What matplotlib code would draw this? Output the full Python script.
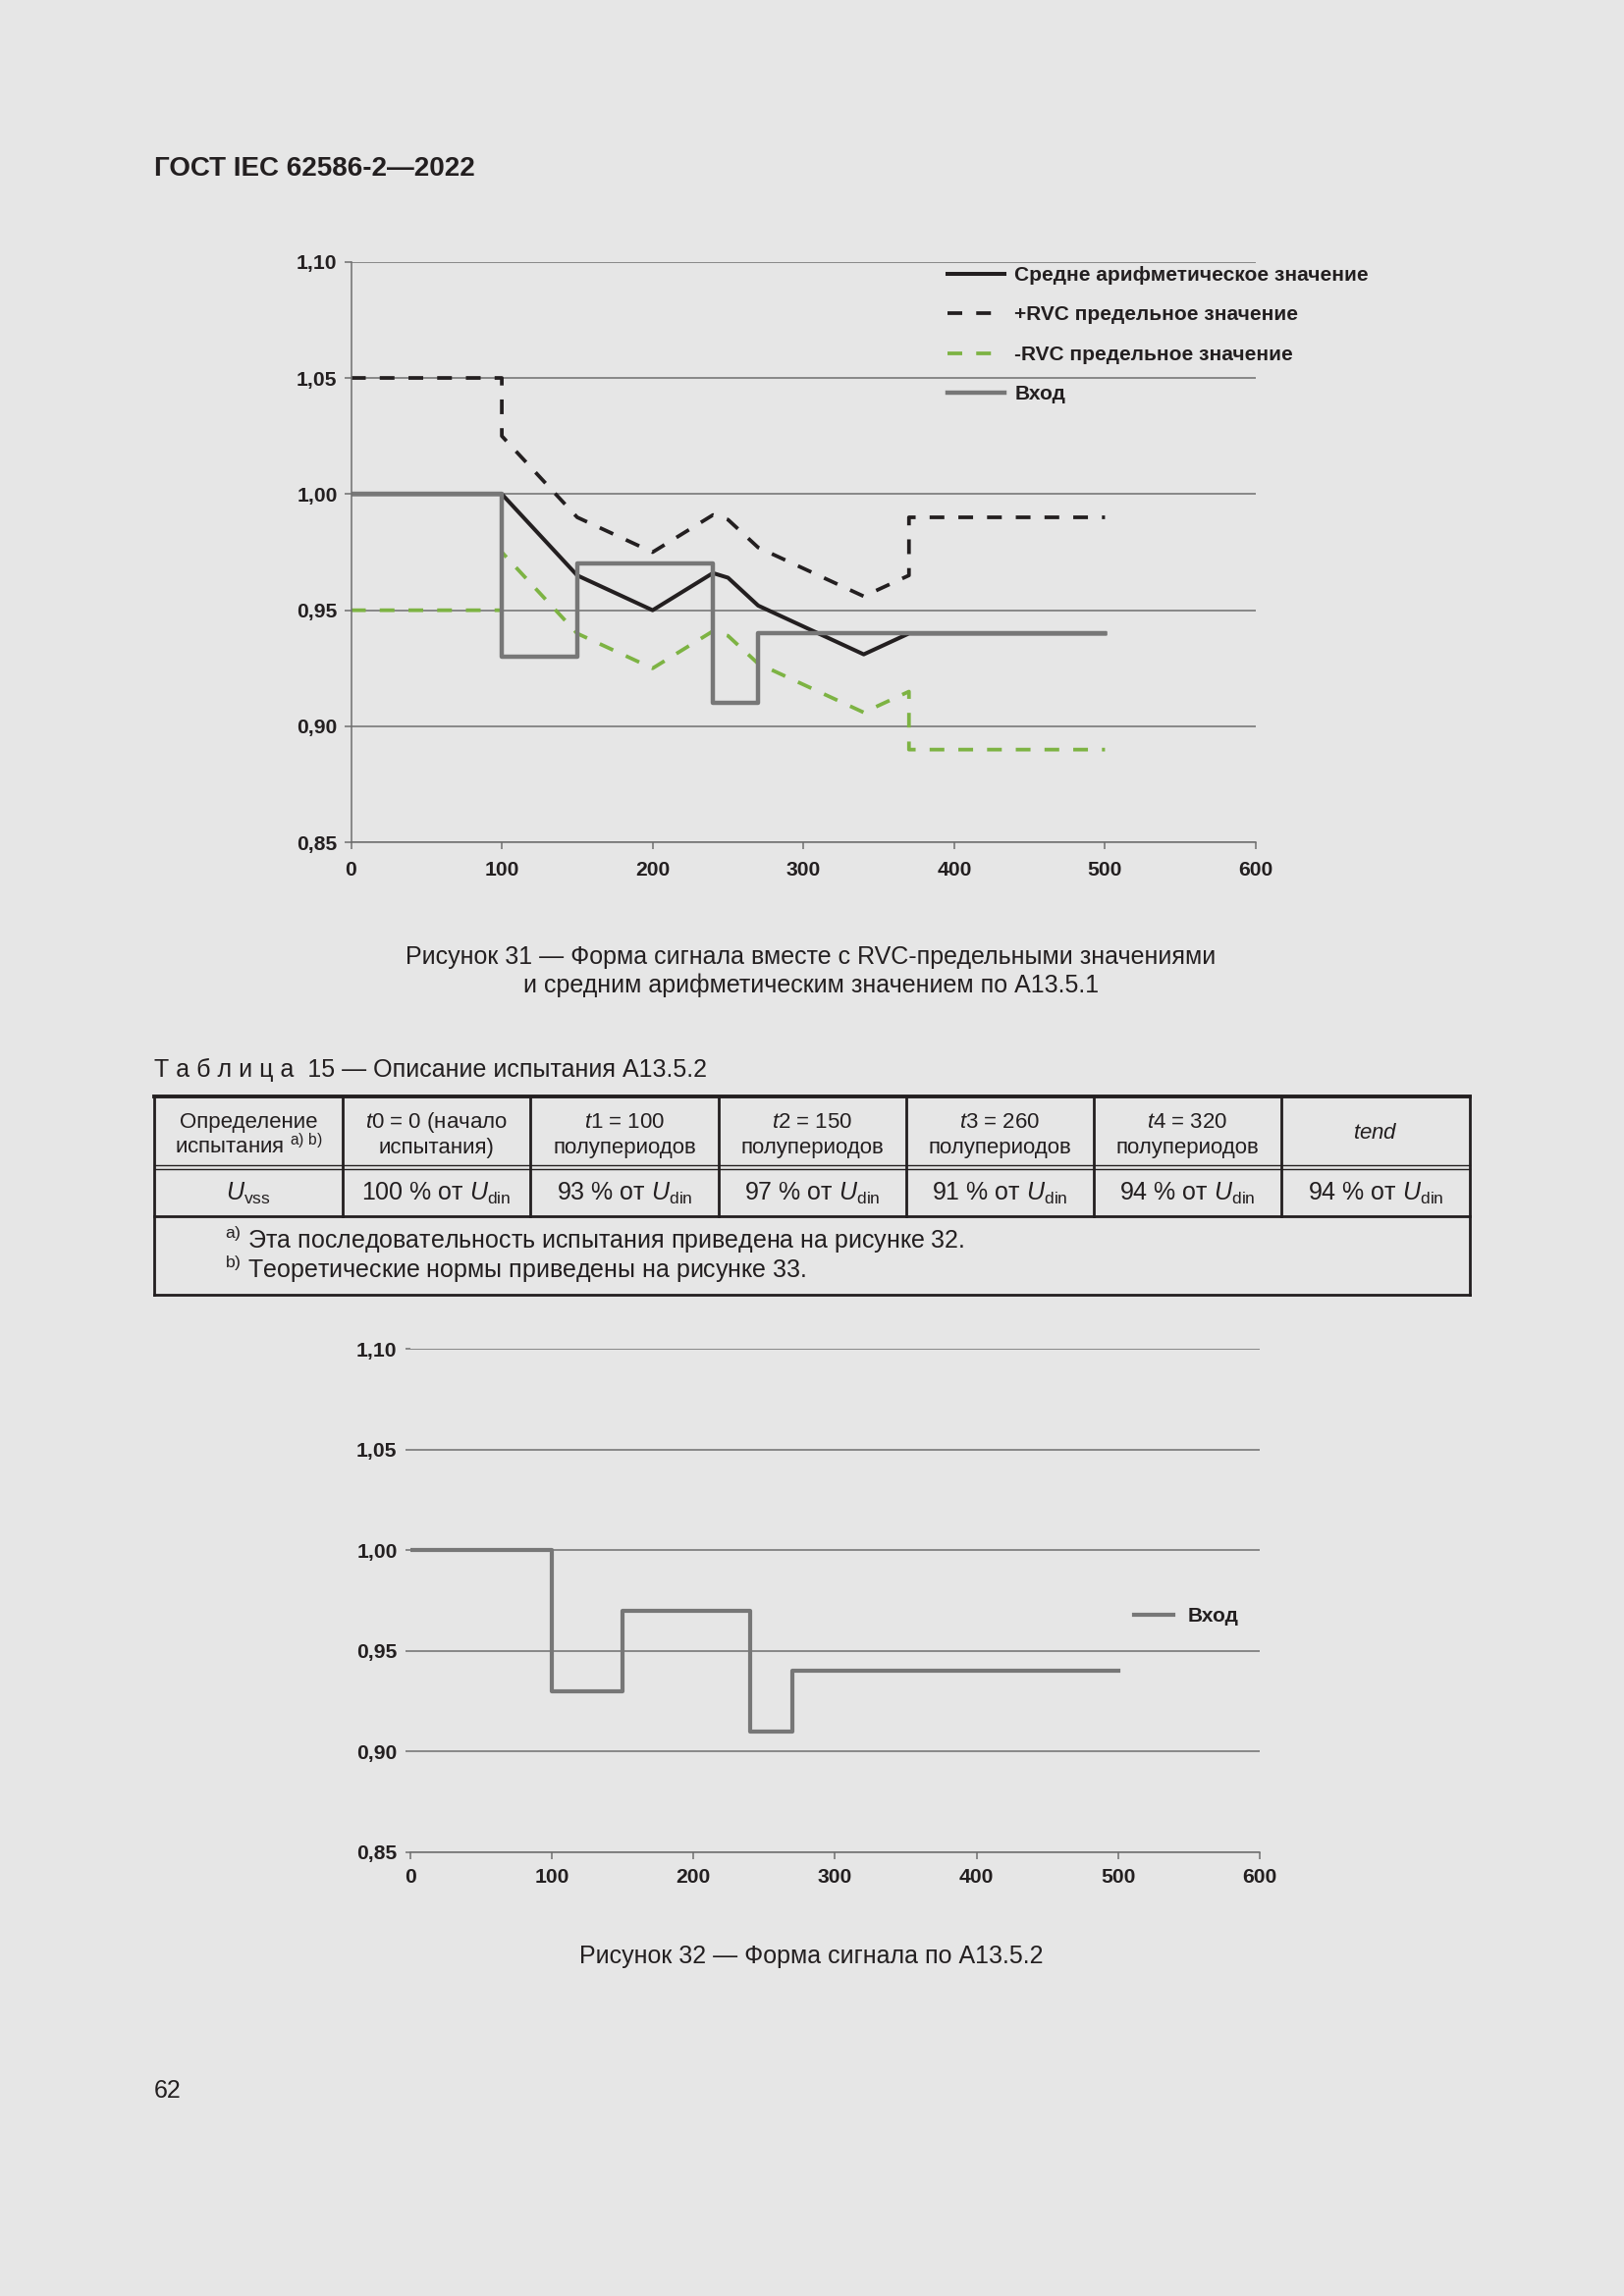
import matplotlib
matplotlib.use('Agg')
import matplotlib.pyplot as plt
from matplotlib.lines import Line2D

W, H = 1654, 2339
DPI = 200

plt.rcParams['font.family'] = ['Liberation Sans', 'DejaVu Sans']
plt.rcParams['mathtext.fontset'] = 'custom'
plt.rcParams['mathtext.rm'] = 'Liberation Sans'
plt.rcParams['mathtext.it'] = 'Liberation Sans:italic'
plt.rcParams['mathtext.bf'] = 'Liberation Sans:bold'

BG = '#e6e6e6'
INK = '#231f20'
GRID = '#6e6e6e'
GRAY = '#777777'
GREEN = '#7db343'

# ---------------- data ----------------
x_ticks = [0, 100, 200, 300, 400, 500, 600]
y_ticks = [0.85, 0.90, 0.95, 1.00, 1.05, 1.10]
y_ticklabels = ['0,85', '0,90', '0,95', '1,00', '1,05', '1,10']

mean_x = [0, 100, 150, 200, 240, 250, 270, 340, 370, 500]
mean_y = [1.000, 1.000, 0.965, 0.950, 0.966, 0.964, 0.952, 0.931, 0.940, 0.940]

plus_x = [0, 100, 100, 150, 200, 240, 250, 270, 340, 370, 370, 500]
plus_y = [1.050, 1.050, 1.025, 0.990, 0.975, 0.991, 0.989, 0.977, 0.956, 0.965, 0.990, 0.990]

minus_x = [0, 100, 100, 150, 200, 240, 250, 270, 340, 370, 370, 500]
minus_y = [0.950, 0.950, 0.975, 0.940, 0.925, 0.941, 0.939, 0.927, 0.906, 0.915, 0.890, 0.890]

input_x = [0, 100, 150, 240, 270, 500]
input_y = [1.00, 0.93, 0.97, 0.91, 0.94, 0.94]

legend_labels = ['Средне арифметическое значение', '+RVC предельное значение',
                 '-RVC предельное значение', 'Вход']

table_head1 = ['Определение', r'$\mathit{t0}$ = 0 (начало', r'$\mathit{t1}$ = 100',
               r'$\mathit{t2}$ = 150', r'$\mathit{t3}$ = 260', r'$\mathit{t4}$ = 320', r'$\mathit{tend}$']
table_head2 = [r'испытания $^{\mathrm{a)\ b)}}$', 'испытания)', 'полупериодов',
               'полупериодов', 'полупериодов', 'полупериодов', '']
table_row_name = r'$\mathit{U}_{\mathrm{vss}}$'
table_percent = [100, 93, 97, 91, 94, 94]
footnotes = [r'$^{\mathrm{a)}}$ Эта последовательность испытания приведена на рисунке 32.',
             r'$^{\mathrm{b)}}$ Теоретические нормы приведены на рисунке 33.']

# ---------------- figure ----------------
fig = plt.figure(figsize=(W / DPI, H / DPI), dpi=DPI, facecolor=BG)


def fx(px):
    return px / W


def fy(py):
    return 1 - py / H


def ftext(x, y, s, **kw):
    kw.setdefault('color', INK)
    kw.setdefault('va', 'baseline')
    fig.text(fx(x), fy(y), s, **kw)


def fline(x0, y0, x1, y1, lw=1.0, color=INK):
    fig.add_artist(Line2D([fx(x0), fx(x1)], [fy(y0), fy(y1)], transform=fig.transFigure,
                          lw=lw, color=color, solid_capstyle='projecting'))


def style_axes(ax, left_spine=True, ytick_len=2.5, ypad=2.5, xpad=4.0):
    ax.set_facecolor('none')
    ax.set_xlim(0, 600)
    ax.set_ylim(0.85, 1.10)
    ax.set_xticks(x_ticks)
    ax.set_xticklabels([str(v) for v in x_ticks], fontweight='bold')
    ax.set_yticks(y_ticks)
    ax.set_yticklabels(y_ticklabels, fontweight='bold')
    ax.yaxis.grid(True, color=GRID, lw=0.55)
    ax.set_axisbelow(True)
    for s in ['top', 'right']:
        ax.spines[s].set_visible(False)
    ax.spines['left'].set_visible(left_spine)
    for s in ['left', 'bottom']:
        ax.spines[s].set_color(GRID)
        ax.spines[s].set_linewidth(0.55)
    ax.tick_params(axis='x', direction='out', length=2.5, width=0.55, color=GRID,
                   labelsize=7.6, labelcolor=INK, pad=xpad)
    ax.tick_params(axis='y', direction='out', length=ytick_len, width=0.55, color=GRID,
                   labelsize=7.6, labelcolor=INK, pad=ypad)


# header
ftext(157, 179.3, 'ГОСТ IEC 62586-2—2022', fontsize=10, fontweight='bold')

# ---------------- chart 1 ----------------
ax1 = fig.add_axes([fx(357.5), fy(858.3), (1279 - 357.5) / W, (858.3 - 266.7) / H])
style_axes(ax1, xpad=4.1)
l_mean, = ax1.plot(mean_x, mean_y, color=INK, lw=1.45)
l_plus, = ax1.plot(plus_x, plus_y, color=INK, lw=1.35, dashes=(4.0, 3.8))
l_minus, = ax1.plot(minus_x, minus_y, color=GREEN, lw=1.35, dashes=(4.0, 3.8))
l_in, = ax1.plot(input_x, input_y, color=GRAY, lw=1.6, drawstyle='steps-post')

fig.legend([l_mean, l_plus, l_minus, l_in], legend_labels, loc='upper left',
           bbox_to_anchor=(fx(965), fy(271)), frameon=False, borderpad=0, borderaxespad=0,
           handlelength=2.8, handletextpad=0.48, labelspacing=1.03,
           prop={'weight': 'bold', 'size': 7.5}, labelcolor=INK)

ftext(826, 981.5, 'Рисунок 31 — Форма сигнала вместе с RVC-предельными значениями',
      fontsize=9, ha='center')
ftext(826, 1011, 'и средним арифметическим значением по А13.5.1', fontsize=9, ha='center')

# ---------------- table ----------------
ftext(157, 1097, 'Т а б л и ц а  15 — Описание испытания А13.5.2', fontsize=9)

col_edges = [157, 349, 540, 732, 923, 1114, 1305, 1497]
y_top, y_dbl1, y_dbl2, y_row, y_bot = 1116.7, 1186.7, 1191.2, 1238.7, 1318.7

fline(col_edges[0], y_top, col_edges[-1], y_top, lw=1.4)
fline(col_edges[0], y_dbl1, col_edges[-1], y_dbl1, lw=0.5)
fline(col_edges[0], y_dbl2, col_edges[-1], y_dbl2, lw=0.5)
fline(col_edges[0], y_row, col_edges[-1], y_row, lw=1.0)
fline(col_edges[0], y_bot, col_edges[-1], y_bot, lw=1.0)
fline(col_edges[0], y_top, col_edges[0], y_bot, lw=1.0)
fline(col_edges[-1], y_top, col_edges[-1], y_bot, lw=1.0)
for xe in col_edges[1:-1]:
    fline(xe, y_top, xe, y_row, lw=1.0)

centers = [(a + b) / 2 for a, b in zip(col_edges[:-1], col_edges[1:])]
for i, c in enumerate(centers):
    if table_head2[i]:
        ftext(c, 1149, table_head1[i], fontsize=8, ha='center')
        ftext(c, 1175, table_head2[i], fontsize=8, ha='center')
    else:
        ftext(c, 1160, table_head1[i], fontsize=8, ha='center')

ftext(centers[0], 1222.7, table_row_name, fontsize=9, ha='center')
for c, v in zip(centers[1:], table_percent):
    ftext(c, 1222.7, f'{v} % от ' + r'$\mathit{U}_{\mathrm{din}}$', fontsize=9, ha='center')

ftext(229, 1271.7, footnotes[0], fontsize=9)
ftext(229, 1301.7, footnotes[1], fontsize=9)

# ---------------- chart 2 ----------------
ax2 = fig.add_axes([fx(417.6), fy(1886.6), (1283 - 417.6) / W, (1886.6 - 1374) / H])
style_axes(ax2, left_spine=False, ytick_len=1.8, ypad=2.9, xpad=3.4)
l_in2, = ax2.plot(input_x, input_y, color=GRAY, lw=1.5, drawstyle='steps-post')
fig.legend([l_in2], ['Вход'], loc='upper left', bbox_to_anchor=(fx(1155), fy(1637)),
           frameon=False, borderpad=0, borderaxespad=0, handlelength=1.92,
           handletextpad=0.72, prop={'weight': 'bold', 'size': 7.5}, labelcolor=INK)

ftext(826, 2000, 'Рисунок 32 — Форма сигнала по А13.5.2', fontsize=9, ha='center')
ftext(157, 2136.7, '62', fontsize=9)

fig.savefig('out.png', dpi=DPI, facecolor=BG)
